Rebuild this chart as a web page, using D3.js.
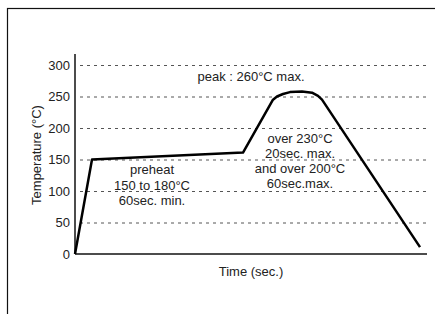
<!DOCTYPE html>
<html>
<head>
<meta charset="utf-8">
<script src="https://cdn.jsdelivr.net/npm/d3@7"></script>
<style>
  body { margin: 0; background: #fff; }
  text { font-family: "Liberation Sans", Arial, sans-serif; fill: #222; font-size: 13px; }
</style>
</head>
<body>
<div class="chart"></div>
<script>
// reflow profile, time is in arbitrary seconds (no ticks on the x axis)
var times = [0, 17, 168, 198, 202, 208, 215, 227, 237, 243, 247, 345];
var temps = [0, 150, 161, 245, 250, 254, 257, 258, 256, 251, 245, 11];
var yTicks = [0, 50, 100, 150, 200, 250, 300];

var preheatNote = ["preheat", "150 to 180\u00b0C", "60sec. min."];
var reflowNote = ["over 230\u00b0C", "20sec. max.", "and over 200\u00b0C", "60sec.max."];
var peakNote = "peak : 260\u00b0C max.";

var W = 435, H = 314;

var svg = d3.select(".chart").append("svg")
    .attr("width", W)
    .attr("height", H);

// frame, runs off the right and bottom edge
svg.append("rect")
   .attr("x", 7.5).attr("y", 8.5)
   .attr("width", 440).attr("height", 320)
   .attr("fill", "none")
   .attr("stroke", "#111")
   .attr("stroke-width", 1.2);

var x = d3.scaleLinear().domain([0, 352]).range([75, 427]);
var y = d3.scaleLinear().domain([0, 300]).range([254, 65]);

// dashed grid
svg.selectAll(".grid")
   .data(yTicks.filter(function(d) { return d > 0; }))
   .enter().append("line")
   .attr("class", "grid")
   .attr("x1", 80).attr("x2", x(352))
   .attr("y1", function(d) { return y(d) + 0.5; })
   .attr("y2", function(d) { return y(d) + 0.5; })
   .attr("stroke", "#555")
   .attr("stroke-width", 1)
   .attr("stroke-dasharray", "3,4");

// tick labels
svg.selectAll(".ylab")
   .data(yTicks)
   .enter().append("text")
   .attr("class", "ylab")
   .attr("x", 70)
   .attr("y", function(d) { return y(d); })
   .attr("dy", "0.35em")
   .attr("text-anchor", "end")
   .text(function(d) { return d; });

// axes
svg.append("line")
   .attr("x1", x(0)).attr("x2", x(0))
   .attr("y1", 54).attr("y2", y(0))
   .attr("stroke", "#111").attr("stroke-width", 1.5);
svg.append("line")
   .attr("x1", x(0)).attr("x2", x(352))
   .attr("y1", y(0)).attr("y2", y(0))
   .attr("stroke", "#111").attr("stroke-width", 1.5);

svg.append("text")
   .attr("transform", "translate(41,155) rotate(-90)")
   .attr("text-anchor", "middle")
   .text("Temperature (\u00b0C)");

svg.append("text")
   .attr("x", 251).attr("y", 276)
   .attr("text-anchor", "middle")
   .text("Time (sec.)");

// profile line
var line = d3.line()
    .x(function(d) { return x(d[0]); })
    .y(function(d) { return y(d[1]); });

svg.append("path")
   .datum(d3.zip(times, temps))
   .attr("d", line)
   .attr("fill", "none")
   .attr("stroke", "#000")
   .attr("stroke-width", 2.5)
   .attr("stroke-linejoin", "round");

// notes
svg.append("text")
   .attr("x", 251).attr("y", 81)
   .attr("text-anchor", "middle")
   .text(peakNote);

svg.selectAll(".pre")
   .data(preheatNote)
   .enter().append("text")
   .attr("class", "pre")
   .attr("x", 152)
   .attr("y", function(d, i) { return 174 + i * 15.5; })
   .attr("text-anchor", "middle")
   .text(function(d) { return d; });

svg.selectAll(".ref")
   .data(reflowNote)
   .enter().append("text")
   .attr("class", "ref")
   .attr("x", 300)
   .attr("y", function(d, i) { return 143 + i * 15; })
   .attr("text-anchor", "middle")
   .text(function(d) { return d; });
</script>
</body>
</html>
